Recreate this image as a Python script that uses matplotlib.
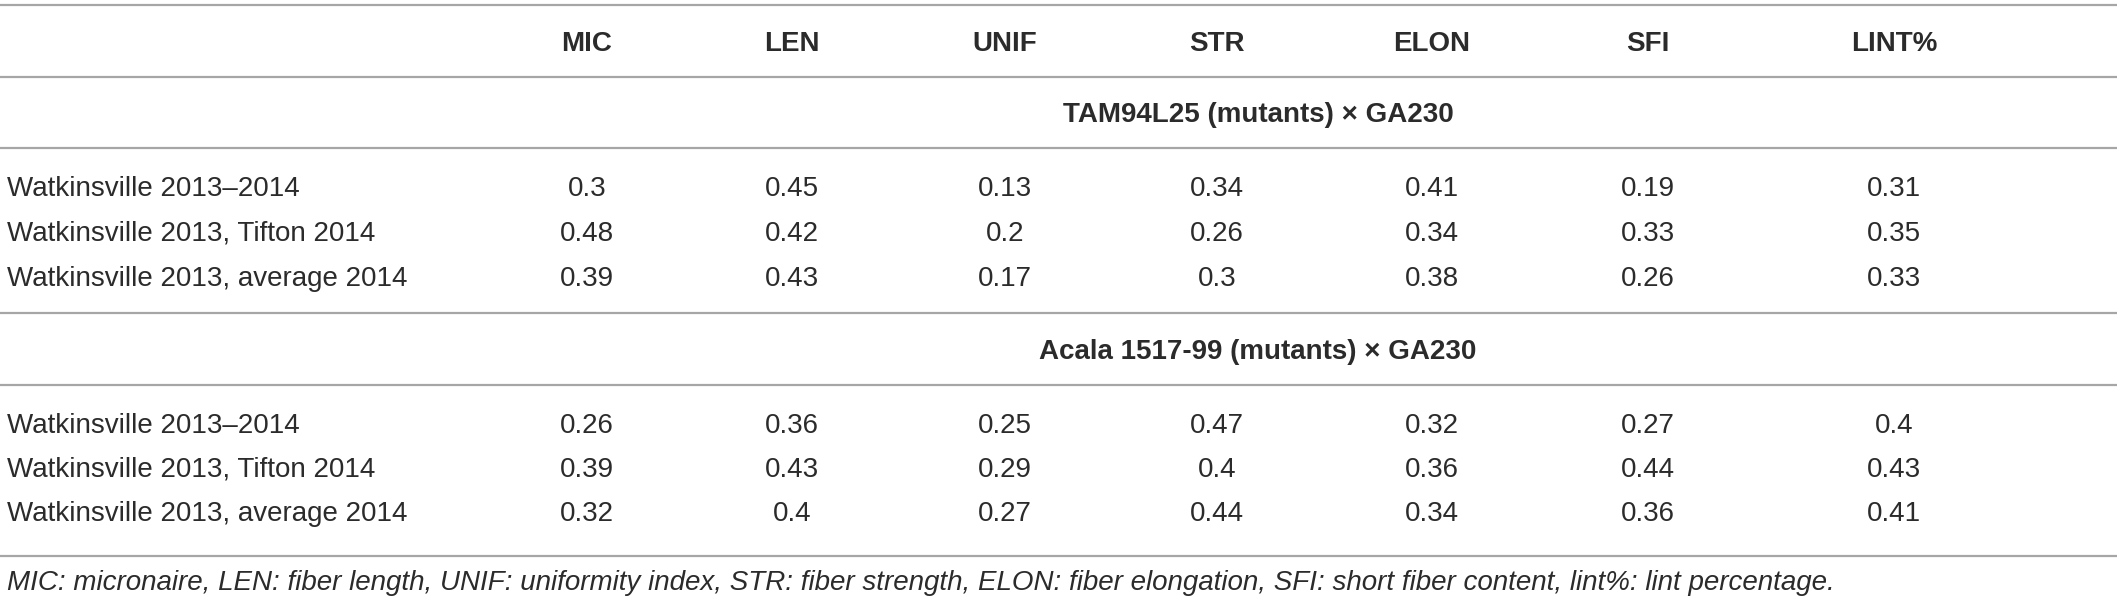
import matplotlib
matplotlib.use("Agg")
import matplotlib.pyplot as plt

columns = ["MIC", "LEN", "UNIF", "STR", "ELON", "SFI", "LINT%"]
row_labels = ["Watkinsville 2013\u20132014",
              "Watkinsville 2013, Tifton 2014",
              "Watkinsville 2013, average 2014"]
group_titles = ["TAM94L25 (mutants) \u00d7 GA230",
                "Acala 1517-99 (mutants) \u00d7 GA230"]
tam_values = [
    ["0.3", "0.45", "0.13", "0.34", "0.41", "0.19", "0.31"],
    ["0.48", "0.42", "0.2", "0.26", "0.34", "0.33", "0.35"],
    ["0.39", "0.43", "0.17", "0.3", "0.38", "0.26", "0.33"],
]
acala_values = [
    ["0.26", "0.36", "0.25", "0.47", "0.32", "0.27", "0.4"],
    ["0.39", "0.43", "0.29", "0.4", "0.36", "0.44", "0.43"],
    ["0.32", "0.4", "0.27", "0.44", "0.34", "0.36", "0.41"],
]
footnote = ("MIC: micronaire, LEN: fiber length, UNIF: uniformity index, STR: fiber strength, "
            "ELON: fiber elongation, SFI: short fiber content, lint%: lint percentage.")

W, H = 2117, 599
fig = plt.figure(figsize=(W / 100, H / 100), dpi=100)
ax = fig.add_axes([0, 0, 1, 1])
ax.set_xlim(0, W)
ax.set_ylim(H, 0)
ax.axis("off")

FONT = "Liberation Sans"
TXT = "#2b2b2b"
LINE = "#a6a6a6"
FS = 20
CAP = 10  # half cap height in px, to place baselines

col_x = [587, 792, 1005, 1217, 1432, 1648, 1894]
label_x = 7

def put(x, yc, s, **kw):
    ax.text(x, yc + CAP, s, va="baseline", family=FONT, color=TXT, fontsize=FS, **kw)

# horizontal rules
for y in [5, 77, 148, 313, 385, 556]:
    ax.plot([0, W], [y, y], color=LINE, lw=1.6, solid_capstyle="butt")

# header
for x, c in zip(col_x, columns):
    put(x, 41, c, ha="center", fontweight="bold")

groups = [(112, [186, 231, 276], tam_values), (349, [423, 467, 511], acala_values)]
for (ty, rys, vals), title in zip(groups, group_titles):
    put(1258, ty, title, ha="center", fontweight="bold")
    for ry, lab, rowv in zip(rys, row_labels, vals):
        put(label_x, ry, lab, ha="left")
        for x, v in zip(col_x, rowv):
            put(x, ry, v, ha="center")

put(label_x, 580, footnote, ha="left", style="italic")

fig.savefig("out.png", dpi=100)
